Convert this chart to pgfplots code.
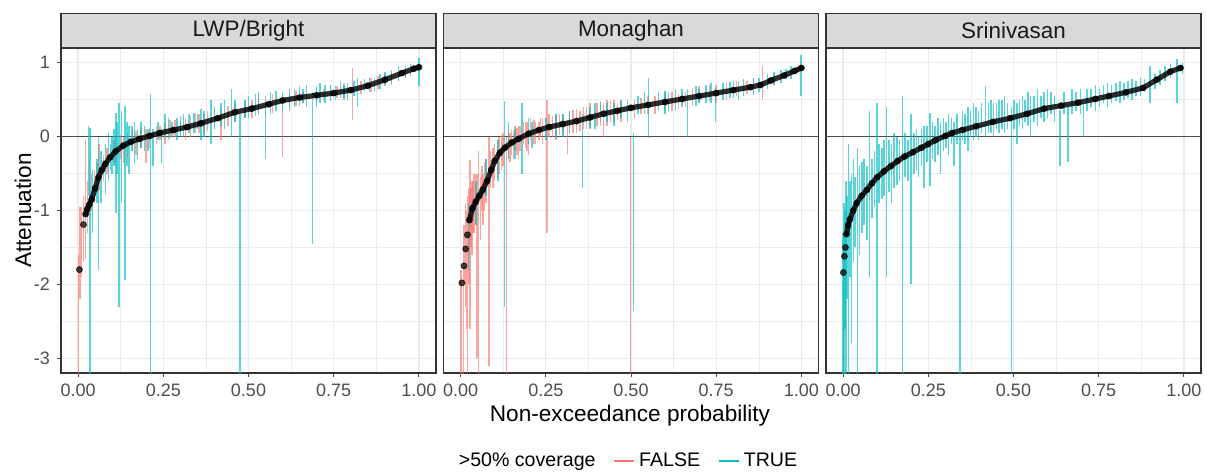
\documentclass[border=0pt]{standalone}
\usepackage{pgfplots}
\usepackage{pgfplotstable}
\pgfplotsset{compat=1.18}
\usepackage{fontspec}
\setmainfont{Liberation Sans}

\definecolor{cF}{HTML}{F8766D}
\definecolor{cT}{HTML}{00BFC4}
\definecolor{gridc}{HTML}{EBEBEB}
\definecolor{stripc}{HTML}{D9D9D9}
\definecolor{framec}{HTML}{333333}
\definecolor{tickc}{HTML}{4D4D4D}
\definecolor{zeroc}{HTML}{4D4D4D}

% ---------- LWP/Bright ----------
\pgfplotstableread{
x y
0.004 -1.80
0.016 -1.19
}\aP
\pgfplotstableread{
x y
0.022 -1.05
0.027 -0.98
0.033 -0.92
0.040 -0.85
0.050 -0.70
0.060 -0.55
0.070 -0.45
0.080 -0.37
0.094 -0.28
0.110 -0.20
0.133 -0.12
0.155 -0.07
0.180 -0.03
0.210 0.01
0.240 0.05
0.280 0.09
0.320 0.13
0.360 0.18
0.410 0.25
0.460 0.33
0.510 0.38
0.560 0.44
0.600 0.49
0.650 0.53
0.700 0.56
0.750 0.59
0.800 0.63
0.850 0.69
0.900 0.77
0.950 0.86
0.985 0.92
1.000 0.94
}\aC
\pgfplotstableread{
x lo hi
0.002 -3.3 -1.6
0.006 -2.2 -0.95
0.010 -1.9 -0.95
0.016 -1.70 -0.80
0.022 -1.66 -0.05
0.028 -1.30 -0.60
0.034 -1.10 -0.30
0.048 -0.90 -0.45
0.056 -0.75 -0.35
0.062 -0.72 -0.10
0.075 -0.60 -0.25
0.085 -0.50 -0.15
0.105 -0.35 -0.05
0.125 -0.30 0.02
0.145 -0.28 0.05
0.160 -0.20 0.10
0.185 -0.15 0.12
0.200 -0.35 0.10
0.230 -0.10 0.15
0.255 -0.10 0.18
0.270 -0.02 0.22
0.300 0.00 0.20
0.330 0.00 0.28
0.355 0.05 0.30
0.380 0.08 0.35
0.420 -0.04 0.36
0.440 0.15 0.42
0.490 0.25 0.48
0.530 0.30 0.55
0.570 0.32 0.58
0.600 -0.27 0.43
0.640 0.42 0.62
0.660 0.45 0.60
0.720 0.48 0.65
0.760 0.52 0.68
0.805 0.23 0.93
0.830 0.58 0.75
0.880 0.65 0.82
0.920 0.72 0.86
0.960 0.80 0.92
0.040 -1.00 -0.50
0.110 -0.40 0.00
0.135 -0.35 0.00
0.170 -0.25 0.08
0.210 -0.15 0.12
0.240 -0.05 0.15
0.285 0.00 0.22
0.315 -0.05 0.25
0.345 0.05 0.32
0.370 0.05 0.30
0.400 0.10 0.38
0.460 0.20 0.45
0.510 0.25 0.50
0.550 0.30 0.55
0.620 0.35 0.60
0.700 0.45 0.65
0.740 0.50 0.70
0.780 0.50 0.72
0.860 0.60 0.80
0.900 0.68 0.85
0.940 0.75 0.90
}\aF
\pgfplotstableread{
x lo hi
0.030 -0.80 0.14
0.035 -3.3 0.12
0.042 -1.30 -0.45
0.060 -1.80 0.00
0.068 -0.90 -0.20
0.080 -0.78 -0.10
0.090 -0.60 0.05
0.100 -0.50 0.00
0.112 -1.03 0.32
0.120 -2.30 0.45
0.128 -0.90 0.35
0.138 -1.94 0.42
0.150 -0.50 0.15
0.165 -0.35 0.20
0.175 -0.30 0.10
0.195 -0.20 0.15
0.212 -3.3 0.58
0.220 -0.40 0.10
0.245 -0.36 0.10
0.265 -0.05 0.25
0.290 -0.05 0.25
0.310 0.00 0.30
0.340 0.05 0.32
0.360 -0.05 0.38
0.390 -0.10 0.50
0.420 0.15 0.45
0.450 0.00 0.65
0.475 -3.3 0.30
0.500 0.25 0.55
0.520 0.28 0.58
0.550 -0.30 0.50
0.580 0.35 0.62
0.620 0.38 0.65
0.650 0.42 0.68
0.670 0.40 0.70
0.688 -1.46 0.60
0.710 0.45 0.72
0.740 0.48 0.70
0.770 0.52 0.75
0.790 0.50 0.72
0.820 0.40 0.80
0.840 0.60 0.78
0.870 0.62 0.80
0.900 0.70 0.88
0.940 0.76 0.95
0.975 0.82 0.98
1.000 0.68 1.07
0.055 -0.90 -0.30
0.095 -0.45 -0.10
0.105 -0.40 0.10
0.115 -0.50 0.20
0.143 -0.40 0.20
0.158 -0.20 0.15
0.185 -0.15 0.20
0.205 -0.20 0.10
0.235 -0.05 0.20
0.255 -0.02 0.30
0.275 0.00 0.20
0.300 0.02 0.28
0.325 0.05 0.30
0.350 0.10 0.30
0.370 0.00 0.35
0.400 0.10 0.40
0.430 0.10 0.50
0.460 0.20 0.50
0.490 0.25 0.50
0.530 0.30 0.60
0.565 0.30 0.60
0.600 0.35 0.60
0.635 0.40 0.65
0.660 0.45 0.65
0.700 0.40 0.68
0.725 0.45 0.70
0.755 0.50 0.68
0.780 0.52 0.70
0.810 0.55 0.75
0.855 0.60 0.80
0.885 0.65 0.85
0.920 0.70 0.90
0.960 0.80 0.95
}\aT

% ---------- Monaghan ----------
\pgfplotstableread{
x y
0.004 -1.98
0.010 -1.75
0.015 -1.52
0.020 -1.33
}\bP
\pgfplotstableread{
x y
0.026 -1.13
0.035 -0.97
0.045 -0.88
0.055 -0.80
0.065 -0.72
0.078 -0.60
0.090 -0.45
0.100 -0.33
0.115 -0.22
0.130 -0.15
0.150 -0.08
0.170 -0.03
0.200 0.04
0.230 0.09
0.260 0.13
0.300 0.17
0.340 0.21
0.380 0.26
0.420 0.31
0.460 0.35
0.500 0.39
0.550 0.43
0.600 0.47
0.650 0.51
0.700 0.55
0.750 0.59
0.800 0.63
0.850 0.67
0.880 0.70
0.910 0.76
0.950 0.83
0.980 0.89
1.000 0.93
}\bC
\pgfplotstableread{
x lo hi
0.002 -3.3 -1.80
0.008 -3.3 -1.20
0.014 -2.30 -0.90
0.020 -3.3 -0.80
0.028 -2.60 -0.31
0.034 -1.60 -0.60
0.040 -1.30 -0.50
0.053 -3.3 -0.20
0.058 -1.40 -0.55
0.070 -1.00 -0.35
0.083 -3.10 0.00
0.095 -0.70 -0.15
0.108 -0.55 -0.05
0.120 -0.45 0.02
0.135 -3.3 0.00
0.145 -0.35 0.05
0.155 -0.30 0.08
0.165 -0.25 0.12
0.175 -0.20 0.15
0.190 -0.15 0.20
0.200 -0.25 0.12
0.215 -0.10 0.22
0.230 -0.05 0.20
0.240 -0.10 0.25
0.254 -1.30 0.50
0.270 0.00 0.28
0.290 0.02 0.30
0.313 -0.24 0.23
0.330 0.05 0.36
0.350 0.08 0.35
0.370 0.10 0.40
0.400 0.15 0.45
0.420 0.00 0.45
0.440 0.20 0.48
0.460 0.22 0.45
0.498 -3.3 0.00
0.530 0.30 0.52
0.570 0.30 0.55
0.620 0.35 0.60
0.640 0.38 0.58
0.700 0.45 0.68
0.730 0.48 0.70
0.780 0.50 0.74
0.810 0.55 0.76
0.840 0.58 0.75
0.885 0.50 0.95
0.920 0.70 0.85
0.012 -2.00 -1.20
0.017 -2.60 -1.00
0.025 -2.00 -0.70
0.031 -1.50 -0.70
0.037 -1.30 -0.60
0.044 -1.20 -0.50
0.048 -3.00 -0.50
0.063 -1.00 -0.40
0.066 -1.20 -0.50
0.075 -0.90 -0.30
0.088 -0.70 -0.20
0.100 -0.60 -0.10
0.113 -0.50 0.00
0.125 -0.40 0.05
0.140 -0.30 0.10
0.150 -0.25 0.10
0.160 -0.20 0.15
0.170 -0.30 0.15
0.185 -0.10 0.20
0.195 -0.20 0.20
0.205 -0.05 0.25
0.220 -0.10 0.20
0.235 0.00 0.25
0.260 0.00 0.30
0.280 -0.05 0.30
0.300 0.05 0.30
0.320 0.05 0.35
0.340 0.05 0.38
0.360 0.10 0.40
0.380 0.10 0.45
0.410 0.15 0.45
0.430 0.15 0.50
0.450 0.20 0.50
0.470 0.20 0.50
0.510 0.25 0.50
0.550 0.30 0.55
0.600 0.35 0.60
0.660 0.40 0.62
0.680 0.42 0.66
0.750 0.45 0.70
0.860 0.60 0.80
}\bF
\pgfplotstableread{
x lo hi
0.024 -1.80 -0.90
0.045 -1.20 -0.60
0.075 -0.80 -0.30
0.110 -0.60 -0.05
0.129 -2.30 0.48
0.160 -0.30 0.10
0.180 -0.50 0.45
0.210 -0.15 0.20
0.250 -0.05 0.25
0.280 -0.02 0.30
0.320 0.05 0.35
0.357 -0.70 0.30
0.380 0.12 0.40
0.410 0.20 0.48
0.450 0.15 0.45
0.470 0.25 0.50
0.508 -2.36 0.05
0.520 0.30 0.55
0.552 -0.02 0.80
0.580 0.35 0.60
0.600 0.30 0.62
0.630 0.35 0.65
0.665 0.00 0.65
0.690 0.42 0.68
0.720 0.45 0.70
0.748 0.20 0.66
0.770 0.50 0.72
0.800 0.52 0.75
0.830 0.55 0.78
0.860 0.56 0.80
0.900 0.65 0.85
0.940 0.72 0.90
0.970 0.78 0.95
0.999 0.55 1.10
0.140 -0.30 0.20
0.200 -0.10 0.25
0.300 0.00 0.30
0.395 0.10 0.45
0.430 0.20 0.45
0.490 0.20 0.50
0.540 0.30 0.60
0.610 0.35 0.60
0.650 0.40 0.65
0.700 0.45 0.65
0.735 0.45 0.72
0.790 0.52 0.74
0.815 0.50 0.75
0.875 0.60 0.80
0.920 0.70 0.88
0.955 0.78 0.92
}\bT

% ---------- Srinivasan ----------
\pgfplotstableread{
x y
0.001 -1.84
0.004 -1.62
0.007 -1.50
}\cP
\pgfplotstableread{
x y
0.010 -1.32
0.015 -1.20
0.020 -1.12
0.030 -1.00
0.040 -0.90
0.055 -0.80
0.070 -0.72
0.085 -0.63
0.100 -0.55
0.120 -0.47
0.140 -0.40
0.160 -0.33
0.180 -0.27
0.205 -0.21
0.230 -0.15
0.250 -0.10
0.270 -0.05
0.300 0.01
0.320 0.05
0.350 0.09
0.390 0.14
0.440 0.20
0.490 0.25
0.540 0.31
0.590 0.38
0.640 0.42
0.690 0.46
0.740 0.51
0.780 0.55
0.830 0.60
0.880 0.66
0.920 0.77
0.960 0.88
0.990 0.93
}\cC
\pgfplotstableread{
x lo hi
0.000 -3.3 -1.3
0.003 -3.3 -0.9
0.006 -2.6 -1.0
0.009 -3.3 -0.6
0.012 -2.2 -0.8
0.016 -3.3 -0.1
0.020 -1.9 -0.6
0.025 -2.8 -0.5
0.030 -1.7 -0.3
0.035 -1.5 -0.55
0.042 -3.3 -0.15
0.048 -1.6 -0.4
0.055 -1.3 -0.35
0.062 -1.2 -0.3
0.070 -1.4 -0.4
0.078 -1.9 0.35
0.085 -1.1 -0.3
0.092 -0.95 -0.2
0.099 -3.3 0.45
0.106 -0.9 -0.1
0.114 -0.85 -0.15
0.120 -0.8 -0.05
0.128 -1.90 0.40
0.135 -0.75 -0.05
0.142 -0.9 -0.1
0.150 -0.7 0.05
0.158 -0.65 0.0
0.166 -0.6 -0.05
0.175 -3.3 0.55
0.182 -0.55 0.05
0.190 -0.6 -0.05
0.200 -2.0 0.30
0.208 -0.5 0.05
0.215 -0.45 0.1
0.222 -0.55 0.0
0.230 -0.4 0.1
0.238 -0.7 0.15
0.246 -0.35 0.15
0.255 -0.67 0.32
0.262 -0.3 0.2
0.270 -0.35 0.15
0.278 -0.25 0.25
0.286 -0.5 0.2
0.294 -0.2 0.25
0.302 -0.15 0.20
0.310 -0.25 0.3
0.318 -0.1 0.25
0.326 -0.4 0.2
0.334 -0.1 0.3
0.343 -3.3 0.05
0.350 -0.05 0.35
0.358 -0.1 0.3
0.366 -0.2 0.4
0.374 0.0 0.35
0.382 -0.05 0.45
0.390 0.0 0.4
0.398 -0.05 0.35
0.406 0.05 0.45
0.418 0.0 0.68
0.426 0.05 0.45
0.434 0.05 0.5
0.442 0.0 0.45
0.450 0.1 0.45
0.458 0.05 0.5
0.466 0.1 0.5
0.474 0.05 0.55
0.482 0.1 0.45
0.494 -3.3 0.40
0.502 0.1 0.5
0.510 -0.1 0.45
0.518 0.15 0.5
0.526 0.1 0.55
0.534 0.2 0.5
0.542 0.15 0.6
0.550 0.0 0.55
0.560 0.2 0.55
0.570 0.15 0.65
0.580 0.25 0.55
0.590 0.2 0.6
0.600 0.25 0.65
0.610 0.3 0.6
0.620 0.2 0.55
0.636 -0.40 0.36
0.648 0.3 0.6
0.660 -0.35 0.40
0.672 0.3 0.65
0.684 0.35 0.6
0.696 0.3 0.65
0.705 0.0 0.45
0.716 0.35 0.65
0.728 0.4 0.65
0.740 0.35 0.7
0.752 0.4 0.65
0.764 0.45 0.7
0.776 0.4 0.72
0.788 0.45 0.7
0.800 0.48 0.72
0.812 0.45 0.75
0.824 0.5 0.72
0.836 0.52 0.75
0.848 0.5 0.78
0.860 0.55 0.75
0.872 0.55 0.8
0.884 0.6 0.78
0.900 0.45 0.95
0.915 0.65 0.85
0.930 0.7 0.9
0.945 0.75 0.95
0.960 0.8 0.98
0.980 0.45 1.05
0.995 0.85 1.0
}\cT

\pgfplotsset{
  panel/.style={
    scale only axis, width=187.5pt, height=162.5pt,
    anchor=south west,
    xmin=-0.05, xmax=1.05, ymin=-3.2, ymax=1.2,
    xtick={0,0.25,0.5,0.75,1}, xticklabels={0.00,0.25,0.50,0.75,1.00},
    minor xtick={0.125,0.375,0.625,0.875},
    ytick={-3,-2,-1,0,1},
    minor ytick={-2.5,-1.5,-0.5,0.5},
    xmajorgrids, ymajorgrids, xminorgrids, yminorgrids,
    major grid style={gridc, line width=0.55pt},
    minor grid style={gridc, line width=0.3pt},
    axis line style={framec, line width=0.55pt},
    tick pos=left, tick align=outside,
    major tick length=2pt, minor tick length=0pt,
    tick style={tickc, line width=0.5pt},
    tick label style={font=\fontsize{9}{10}\selectfont, text=tickc},
    /pgf/number format/assume math mode=true,
    every axis title/.style={at={(0.5,1)}, anchor=south, fill=stripc,
      draw=framec, line width=0.55pt, minimum width=187.5pt,
      minimum height=17pt, inner sep=0pt,
      font=\fontsize{11.2}{12}\selectfont, text=black!90},
  },
  rng/.style={draw=none, mark=none, forget plot,
    error bars/.cd, y dir=plus, y explicit, error mark=none,
    error bar style={draw=#1, line width=0.75pt, opacity=0.65}},
  zl/.style={zeroc, line width=0.6pt, forget plot},
  crv/.style={black, opacity=0.82, line width=2.6pt, line cap=round, line join=round, forget plot},
  pts/.style={only marks, mark=*, mark size=1.5pt, black, opacity=0.72, forget plot},
}

\begin{document}
\begin{tikzpicture}
\path[use as bounding box] (-30.5pt,-50pt) rectangle (573pt,186.5pt);

\begin{axis}[panel, at={(0pt,0pt)}, title={LWP/Bright},
  yticklabels={-3,-2,-1,0,1},
  legend columns=-1,
  legend style={at={(1.512,-0.271)}, anchor=center, draw=none, fill=none,
    font=\fontsize{9.8}{11}\selectfont,
    /tikz/every even column/.append style={column sep=7pt}},
  legend image code/.code={\draw[#1, line width=0.8pt] (0pt,0pt) -- (10pt,0pt);},
]
\addplot[zl] coordinates {(-0.05,0) (1.05,0)};
\addplot[cF, rng=cF] table[x=x, y=lo, y error plus expr=\thisrow{hi}-\thisrow{lo}] {\aF};
\addplot[cT, rng=cT] table[x=x, y=lo, y error plus expr=\thisrow{hi}-\thisrow{lo}] {\aT};
\addplot[crv] table[x=x, y=y] {\aC};
\addplot[pts] table[x=x, y=y] {\aC};
\addplot[pts] table[x=x, y=y] {\aP};
\addlegendimage{empty legend}
\addlegendentry{>50\% coverage}
\addlegendimage{cF}
\addlegendentry{FALSE}
\addlegendimage{cT}
\addlegendentry{TRUE}
\end{axis}

\begin{axis}[panel, at={(191.25pt,0pt)}, title={Monaghan},
  yticklabels={}, ytick style={draw=none}]
\addplot[zl] coordinates {(-0.05,0) (1.05,0)};
\addplot[cF, rng=cF] table[x=x, y=lo, y error plus expr=\thisrow{hi}-\thisrow{lo}] {\bF};
\addplot[cT, rng=cT] table[x=x, y=lo, y error plus expr=\thisrow{hi}-\thisrow{lo}] {\bT};
\addplot[crv] table[x=x, y=y] {\bC};
\addplot[pts] table[x=x, y=y] {\bC};
\addplot[pts] table[x=x, y=y] {\bP};
\end{axis}

\begin{axis}[panel, at={(382.5pt,0pt)}, title={Srinivasan},
  yticklabels={}, ytick style={draw=none}]
\addplot[zl] coordinates {(-0.05,0) (1.05,0)};
\addplot[cT, rng=cT] table[x=x, y=lo, y error plus expr=\thisrow{hi}-\thisrow{lo}] {\cT};
\addplot[crv] table[x=x, y=y] {\cC};
\addplot[pts] table[x=x, y=y] {\cC};
\addplot[pts] table[x=x, y=y] {\cP};
\end{axis}

\node[rotate=90, font=\fontsize{11.3}{12}\selectfont] at (-19pt,81.25pt) {Attenuation};
\node[font=\fontsize{11.3}{12}\selectfont] at (284.5pt,-21.5pt) {Non-exceedance probability};
\end{tikzpicture}
\end{document}
